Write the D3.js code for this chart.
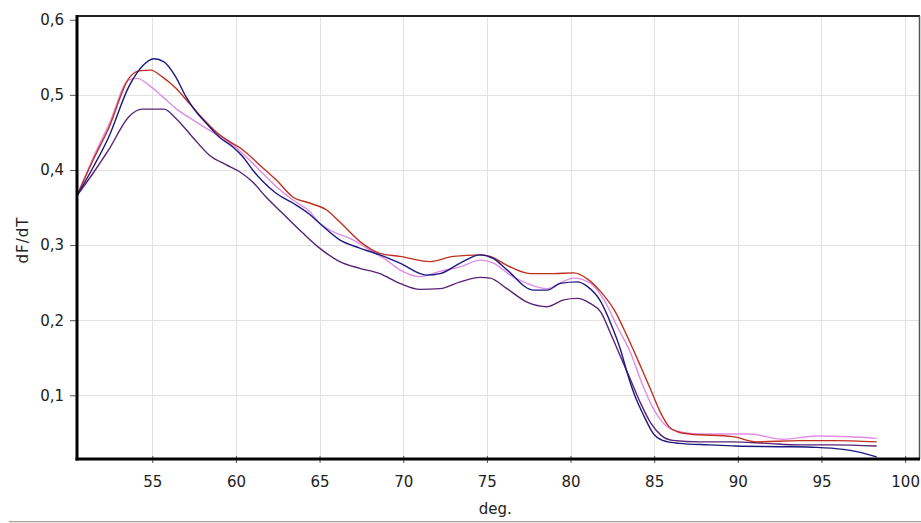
<!DOCTYPE html>
<html><head><meta charset="utf-8">
<script src="https://cdn.jsdelivr.net/npm/d3@7"></script>
<style>html,body{margin:0;padding:0;background:#fff;}svg{display:block;}</style>
</head><body>
<script>
// Data (temperature in deg., dF/dT)
const xTicks = [55, 60, 65, 70, 75, 80, 85, 90, 95, 100];
const yTicks = [0.1, 0.2, 0.3, 0.4, 0.5, 0.6];
const yTickLabels = ["0,1", "0,2", "0,3", "0,4", "0,5", "0,6"];
const xLabel = "deg.";
const yLabel = "dF/dT";

const blueSeries = [[50.5,0.366],[51.5,0.405],[52.4,0.444],[53.6,0.511],[54.4,0.538],[55.1,0.548],[55.7,0.544],[56.4,0.524],[57.0,0.498],[57.6,0.478],[58.4,0.458],[59.0,0.444],[59.8,0.431],[60.4,0.418],[61.0,0.400],[61.6,0.385],[62.4,0.369],[63.4,0.356],[64.4,0.341],[65.0,0.329],[66.2,0.307],[67.4,0.296],[68.6,0.287],[69.8,0.276],[71.4,0.260],[72.2,0.262],[73.4,0.276],[74.6,0.287],[75.4,0.282],[76.2,0.267],[77.8,0.240],[78.6,0.240],[79.4,0.249],[80.4,0.251],[81.0,0.245],[81.8,0.225],[82.4,0.196],[83.0,0.160],[83.4,0.129],[83.8,0.102],[84.4,0.072],[84.95,0.049],[85.5,0.040],[86.5,0.036],[88.3,0.034],[89.9,0.0325],[92.7,0.0316],[94.7,0.0307],[96.3,0.028],[97.1,0.025],[98.3,0.018]];
const redSeries = [[50.5,0.366],[51.5,0.415],[52.4,0.456],[53.6,0.522],[54.2,0.532],[54.9,0.533],[55.6,0.524],[56.4,0.509],[57.2,0.489],[58.0,0.469],[58.8,0.451],[59.6,0.438],[60.4,0.427],[61.4,0.407],[62.4,0.387],[63.4,0.364],[64.4,0.356],[65.4,0.347],[66.2,0.331],[67.4,0.305],[68.6,0.289],[69.8,0.285],[71.6,0.278],[73.0,0.285],[74.6,0.287],[75.2,0.285],[76.2,0.273],[77.6,0.262],[79.0,0.262],[80.2,0.263],[81.0,0.255],[81.8,0.238],[82.6,0.214],[83.4,0.178],[84.2,0.138],[84.8,0.107],[85.4,0.076],[85.9,0.058],[86.4,0.0515],[87.1,0.0485],[89.7,0.045],[91.1,0.038],[93.7,0.0396],[95.7,0.0396],[98.3,0.038]];
const pinkSeries = [[50.5,0.366],[51.5,0.418],[52.4,0.460],[53.6,0.520],[54.1,0.522],[54.8,0.513],[55.6,0.498],[56.4,0.482],[57.4,0.467],[58.4,0.453],[59.4,0.440],[60.4,0.422],[61.4,0.400],[62.4,0.378],[63.4,0.360],[64.4,0.345],[65.0,0.329],[65.8,0.318],[67.0,0.307],[67.8,0.296],[69.0,0.280],[69.8,0.267],[71.0,0.258],[72.2,0.265],[73.4,0.271],[74.6,0.280],[75.4,0.276],[76.4,0.260],[77.4,0.249],[78.6,0.242],[79.4,0.250],[80.2,0.256],[81.2,0.249],[82.0,0.227],[82.8,0.191],[83.6,0.156],[84.2,0.120],[84.8,0.089],[85.4,0.067],[86.1,0.054],[87.7,0.0485],[90.7,0.0485],[92.7,0.0414],[94.7,0.0458],[96.7,0.0449],[98.3,0.0427]];
const purpleSeries = [[50.5,0.366],[51.5,0.397],[52.4,0.427],[53.6,0.471],[54.4,0.481],[55.7,0.481],[56.4,0.469],[57.4,0.444],[58.4,0.420],[59.4,0.407],[60.2,0.398],[61.0,0.384],[61.8,0.364],[62.8,0.342],[64.0,0.316],[65.0,0.296],[66.2,0.278],[67.4,0.269],[68.6,0.262],[69.8,0.249],[71.0,0.241],[72.2,0.242],[73.4,0.251],[74.6,0.257],[75.2,0.256],[76.2,0.242],[77.4,0.224],[78.6,0.218],[79.6,0.227],[80.4,0.229],[81.2,0.222],[81.8,0.211],[82.4,0.182],[83.0,0.151],[83.6,0.120],[84.2,0.089],[84.8,0.063],[85.4,0.047],[86.1,0.040],[87.7,0.038],[89.7,0.038],[91.7,0.036],[93.7,0.034],[95.7,0.034],[98.3,0.0325]];

const seriesList = [
  {data: pinkSeries, color: "#e08ce6"},
  {data: purpleSeries, color: "#5a2273"},
  {data: redSeries, color: "#c0301e"},
  {data: blueSeries, color: "#1a1a82"}
];

const W = 921, H = 523;
const L = 77, R = 920, T = 16, B = 459;

const svg = d3.select("body").append("svg").attr("width", W).attr("height", H);
const x = d3.scaleLinear().domain([50.5, 100.89]).range([L, R]);
const y = d3.scaleLinear().domain([0.0152, 0.605]).range([B, T]);

const font = "DejaVu Sans, Verdana, sans-serif";

// gridlines
const grid = svg.append("g");
grid.selectAll("line.v").data(xTicks).enter().append("line")
  .attr("x1", d => Math.round(x(d)) + 0.5).attr("x2", d => Math.round(x(d)) + 0.5)
  .attr("y1", T).attr("y2", B).attr("stroke", "#e2e2e2").attr("stroke-width", 1);
grid.selectAll("line.h").data(yTicks.filter(d => d < 0.6)).enter().append("line")
  .attr("y1", d => Math.round(y(d)) + 0.5).attr("y2", d => Math.round(y(d)) + 0.5)
  .attr("x1", L).attr("x2", R).attr("stroke", "#e2e2e2").attr("stroke-width", 1);

// curves
const line = d3.line().x(d => x(d[0])).y(d => y(d[1])).curve(d3.curveMonotoneX);
svg.append("g").selectAll("path").data(seriesList).enter().append("path")
  .attr("d", d => line(d.data)).attr("fill", "none")
  .attr("stroke", d => d.color).attr("stroke-width", 1.4);

// frame: top and right
svg.append("line").attr("x1", L).attr("x2", R).attr("y1", T).attr("y2", T).attr("stroke", "#222").attr("stroke-width", 2);
svg.append("line").attr("x1", R - 0.5).attr("x2", R - 0.5).attr("y1", T).attr("y2", B).attr("stroke", "#555").attr("stroke-width", 1.5);

// axes
const xAxis = d3.axisBottom(x).tickValues(xTicks).tickSize(7).tickPadding(13).tickFormat(d3.format("d"));
const gx = svg.append("g").attr("transform", `translate(0,${B - 3})`).call(xAxis);
gx.select(".domain").remove();
gx.selectAll(".tick line").attr("stroke", "#555");
gx.selectAll(".tick text").attr("font-family", font).attr("font-size", 15).attr("fill", "#222");

const yAxis = d3.axisLeft(y).tickValues(yTicks).tickSize(7).tickPadding(6).tickFormat((d, i) => yTickLabels[i]);
const gy = svg.append("g").attr("transform", `translate(${L},0)`).call(yAxis);
gy.select(".domain").remove();
gy.selectAll(".tick line").attr("stroke", "#555");
gy.selectAll(".tick text").attr("font-family", font).attr("font-size", 15).attr("fill", "#222");

// thick axis lines
svg.append("line").attr("x1", L).attr("x2", L).attr("y1", T - 1).attr("y2", B + 1.5).attr("stroke", "#000").attr("stroke-width", 3);
svg.append("line").attr("x1", L - 1.5).attr("x2", R).attr("y1", B).attr("y2", B).attr("stroke", "#000").attr("stroke-width", 3);

// axis titles
svg.append("text").attr("x", x(75.5)).attr("y", 514).attr("text-anchor", "middle")
  .attr("font-family", font).attr("font-size", 15).attr("fill", "#222").text(xLabel);
svg.append("text").attr("transform", "translate(28,240) rotate(-90)").attr("text-anchor", "middle")
  .attr("font-family", font).attr("font-size", 15).attr("letter-spacing", 1).attr("fill", "#222").text(yLabel);

// window bottom border
svg.append("line").attr("x1", 9).attr("x2", W).attr("y1", 521.5).attr("y2", 521.5).attr("stroke", "#a8a49c").attr("stroke-width", 1);
svg.append("line").attr("x1", 9).attr("x2", W).attr("y1", 522.5).attr("y2", 522.5).attr("stroke", "#e8e4dc").attr("stroke-width", 1);
</script>
</body></html>
